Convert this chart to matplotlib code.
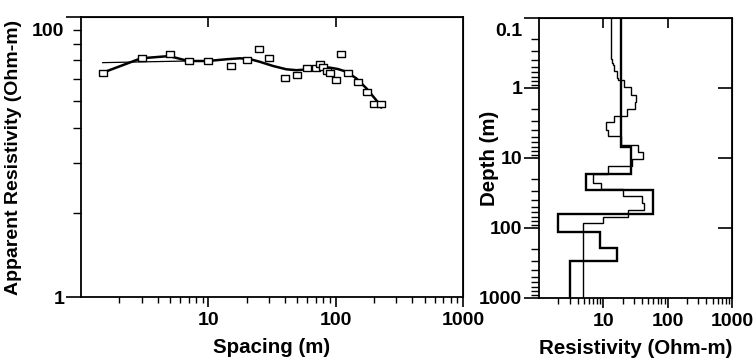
import numpy as np
import matplotlib.pyplot as plt
from matplotlib.path import Path
from matplotlib.ticker import FixedLocator, NullFormatter, NullLocator
from matplotlib.transforms import ScaledTranslation

plt.rcParams['font.family'] = ['Liberation Sans', 'DejaVu Sans']
plt.rcParams['font.weight'] = 'bold'

# sounding data (apparent resistivity vs spacing)
spacing = [1.5, 3, 5, 7, 10, 15, 20, 25, 30, 40, 50, 60, 70, 75, 80, 85, 90,
           100, 110, 125, 150, 175, 200, 225]
rho_obs = [40, 50.7, 54.2, 48.5, 48.3, 44.9, 49, 58.8, 50.7, 36.7, 38.5, 43.2,
           43.4, 45.9, 44, 41.3, 39.6, 35.7, 54.7, 40, 34.3, 29.1, 24, 24]

# calculated response (thick line)
calc_x = [1.48, 2.96, 4.93, 6.95, 9.9, 13.9, 17.7, 21.1, 25.3, 32.2, 41, 49.2,
          62.5, 75, 89.8, 104, 121, 145, 174, 208, 228]
calc_y = [40, 50.7, 52.6, 48.5, 48.5, 49.9, 50.7, 50.1, 47.9, 44.7, 42.3, 41.7,
          42.3, 43.5, 43.5, 42.5, 40.7, 36.5, 31, 25.5, 22.6]

# second response (thin line)
thin_x = [1.48, 6.95]
thin_y = [47.2, 48.5]

# smooth (many-layer) model: layer boundaries in m and resistivity per layer
smooth_edges = [0.1, 0.38, 0.44, 0.47, 0.58, 0.73, 0.77, 0.98, 1.27, 1.6, 2.0,
                2.5, 3.1, 4.0, 4.9, 6.5, 8.1, 10.4, 13, 16.7, 22.5, 27.3, 35,
                44.6, 55.6, 69.7, 86, 1000]
smooth_rho = [13.0, 13.5, 14.0, 14.9, 16.5, 17.1, 21.2, 26.7, 32.2, 31, 23.1,
              14.7, 10.9, 11.7, 18.6, 35, 42, 27.6, 12, 7.0, 9.1, 20, 39.5,
              43, 24.5, 10, 4.9]

# layered model (thick line)
layer_edges = [0.1, 6.9, 16.7, 28.5, 63, 113, 195, 296, 1000]
layer_rho = [18.6, 27, 5.4, 60, 2.0, 8.9, 16.1, 3.0]

fig = plt.figure(figsize=(7.53, 3.6), dpi=100)
ax1 = fig.add_axes([81 / 753, 63 / 360, 382 / 753, 280 / 360])
ax2 = fig.add_axes([539 / 753, 62 / 360, 193 / 753, 280 / 360])

box = Path([(-1.5, -1), (1.5, -1), (1.5, 1), (-1.5, 1), (-1.5, -1)])

ax1.plot(thin_x, thin_y, color='black', lw=0.9)
ax1.plot(calc_x, calc_y, color='black', lw=1.8)
ax1.plot(spacing, rho_obs, linestyle='none', marker=box, markersize=5.5,
         markerfacecolor='white', markeredgecolor='black', markeredgewidth=1)

ax1.set_xscale('log')
ax1.set_yscale('log')
ax1.set_xlim(1, 1000)
ax1.set_ylim(1, 100)
ax1.set_xticks([10, 100, 1000])
ax1.set_xticklabels(['10', '100', '1000'])
ax1.set_yticks([1, 100])
ax1.set_yticklabels(['1', '100'])
ax1.yaxis.set_minor_locator(FixedLocator([4, 9, 16, 25, 36, 49, 64, 81]))
ax1.yaxis.set_minor_formatter(NullFormatter())
ax1.set_xlabel('Spacing (m)', fontsize=14.8, fontweight='bold', labelpad=6)
ax1.set_ylabel('Apparent Resistivity (Ohm-m)', fontsize=14, fontweight='bold')
ax1.yaxis.set_label_coords(-0.155, 0.5)

ax2.stairs(smooth_rho, smooth_edges, orientation='horizontal', baseline=None,
           color='black', lw=1.0)
ax2.stairs(layer_rho, layer_edges, orientation='horizontal', baseline=None,
           color='black', lw=1.7)
ax2.set_xscale('log')
ax2.set_yscale('log')
ax2.set_xlim(1, 1000)
ax2.set_ylim(1000, 0.1)
ax2.set_xticks([10, 100, 1000])
ax2.set_xticklabels(['10', '100', '1000'])
ax2.set_yticks([0.1, 1, 10, 100, 1000])
ax2.set_yticklabels(['0.1', '1', '10', '100', '1000'])
ax2.set_xlabel('Resistivity (Ohm-m)', fontsize=14.8, fontweight='bold', labelpad=6)
ax2.set_ylabel('Depth (m)', fontsize=14.8, fontweight='bold')
ax2.yaxis.set_label_coords(-0.205, 0.5)

for ax in (ax1, ax2):
    for s in ax.spines.values():
        s.set_linewidth(1.3)
    ax.tick_params(axis='both', which='major', labelsize=14, width=1.2)
    ax.tick_params(axis='x', which='major', length=7, direction='out', pad=4)
    ax.tick_params(axis='x', which='minor', length=4, width=1.0, direction='out')
    ax.tick_params(axis='y', which='major', length=11, direction='out', pad=1)
    ax.tick_params(axis='y', which='minor', length=6, width=1.0, direction='out')
    for lab in ax.get_xticklabels() + ax.get_yticklabels():
        lab.set_fontweight('bold')
    # inward major ticks on the top and right
    top = ax.secondary_xaxis('top')
    top.set_xticks([10, 100])
    top.set_xticklabels([])
    top.xaxis.set_minor_locator(NullLocator())
    top.tick_params(direction='in', length=7, width=1.2)
    right = ax.secondary_yaxis('right')
    right.set_yticks([1, 10, 100] if ax is ax2 else [])
    right.set_yticklabels([])
    right.yaxis.set_minor_locator(NullLocator())
    right.tick_params(direction='in', length=10, width=1.2)

# the top labels sit a little below the axis corner
shift = ScaledTranslation(0, -12 / 100, fig.dpi_scale_trans)
for ax in (ax1, ax2):
    labs = ax.get_yticklabels()
    lab = labs[-1] if ax is ax1 else labs[0]
    lab.set_transform(lab.get_transform() + shift)

fig.savefig('out.png', dpi=100)
